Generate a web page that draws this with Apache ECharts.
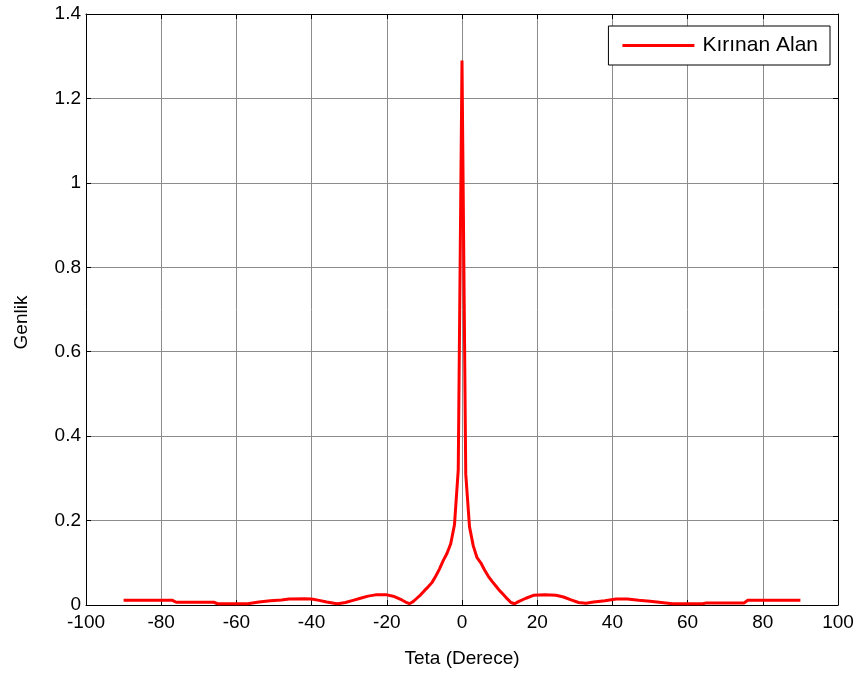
<!DOCTYPE html>
<html>
<head>
<meta charset="utf-8">
<script src="https://cdn.jsdelivr.net/npm/echarts@6/dist/echarts.min.js"></script>
<style>
  html, body { margin: 0; padding: 0; background: #fff; }
  #chart { width: 863px; height: 673px; }
</style>
</head>
<body>
<div id="chart"></div>
<script>
// Diffracted field amplitude versus observation angle (degrees)
const thetaDeg = [
  -90, -84, -77, -76, -70, -66, -65, -60, -57, -54, -51, -48, -46, -42, -40,
  -38, -36, -34, -33, -31, -29, -27, -25, -23, -20, -18, -16, -15, -14, -13,
  -12, -11, -10, -9, -8, -7, -6, -5, -4, -3, -2, -1, 0,
  1, 2, 3, 4, 5, 6, 7, 8, 9, 10, 11, 12, 13, 14, 15, 17, 19, 22, 25, 27,
  29, 31, 33, 35, 38, 41, 44, 47, 50, 53, 56, 60, 64, 65, 70, 75, 76, 82, 90
];
const amplitude = [
  0.011, 0.011, 0.011, 0.0065, 0.0065, 0.0065, 0.003, 0.003, 0.003, 0.007, 0.010, 0.012, 0.014, 0.015, 0.014,
  0.011, 0.007, 0.004, 0.003, 0.006, 0.011, 0.016, 0.021, 0.024, 0.024, 0.020, 0.012, 0.007, 0.003, 0.008,
  0.016, 0.024, 0.034, 0.043, 0.053, 0.068, 0.085, 0.105, 0.122, 0.145, 0.19, 0.32, 1.29,
  0.31, 0.185, 0.14, 0.112, 0.100, 0.083, 0.068, 0.056, 0.045, 0.034, 0.025, 0.015, 0.006, 0.003, 0.008, 0.016, 0.023, 0.024, 0.023, 0.019,
  0.012, 0.006, 0.004, 0.007, 0.010, 0.014, 0.014, 0.011, 0.009, 0.006, 0.003, 0.003, 0.003, 0.005, 0.005, 0.005, 0.011, 0.011, 0.011
];
const xTicks = { min: -100, max: 100, step: 20 };
const yTicks = { min: 0, max: 1.4, step: 0.2 };
const seriesName = 'Kırınan Alan';
const xTitle = 'Teta (Derece)';
const yTitle = 'Genlik';

const font = 'Liberation Sans, Arial, sans-serif';
const points = thetaDeg.map((t, i) => [t, amplitude[i]]);

const boxLine = { show: true, onZero: false, lineStyle: { color: '#000', width: 1 } };
const inTick = { show: true, inside: true, length: 5, lineStyle: { color: '#000', width: 1 } };

const chart = echarts.init(document.getElementById('chart'), null, { renderer: 'canvas' });
chart.setOption({
  backgroundColor: '#fff',
  animation: false,
  grid: { left: 86, top: 14, width: 752, height: 591 },
  legend: {
    data: [seriesName],
    right: 33, top: 26,
    backgroundColor: '#fff',
    borderColor: '#000', borderWidth: 1,
    padding: [9, 12, 9, 14],
    icon: 'rect',
    itemWidth: 72, itemHeight: 3,
    textStyle: { fontFamily: font, fontSize: 21, color: '#000', padding: [0, 0, 0, 3] }
  },
  xAxis: [
    {
      type: 'value', min: xTicks.min, max: xTicks.max, interval: xTicks.step,
      name: xTitle, nameLocation: 'middle', nameGap: 44,
      nameTextStyle: { fontFamily: font, fontSize: 19, color: '#000' },
      axisLine: boxLine, axisTick: inTick,
      axisLabel: { fontFamily: font, fontSize: 19, color: '#000', margin: 8 },
      splitLine: { show: true, lineStyle: { color: '#8c8c8c', width: 1 } }
    },
    {
      type: 'value', position: 'top', min: xTicks.min, max: xTicks.max, interval: xTicks.step,
      axisLine: boxLine, axisTick: inTick, axisLabel: { show: false }, splitLine: { show: false }
    }
  ],
  yAxis: [
    {
      type: 'value', min: yTicks.min, max: yTicks.max, interval: yTicks.step,
      name: yTitle, nameLocation: 'middle', nameGap: 55,
      nameTextStyle: { fontFamily: font, fontSize: 19, color: '#000', padding: [0, 26, 0, 0] },
      axisLine: boxLine, axisTick: inTick,
      axisLabel: { fontFamily: font, fontSize: 19, color: '#000', margin: 5 },
      splitLine: { show: true, lineStyle: { color: '#8c8c8c', width: 1 } }
    },
    {
      type: 'value', position: 'right', min: yTicks.min, max: yTicks.max, interval: yTicks.step,
      axisLine: boxLine, axisTick: inTick, axisLabel: { show: false }, splitLine: { show: false }
    }
  ],
  series: [
    {
      name: seriesName, type: 'line', data: points,
      xAxisIndex: 0, yAxisIndex: 0,
      symbol: 'none', smooth: false,
      lineStyle: { color: '#ff0000', width: 3 },
      itemStyle: { color: '#ff0000' },
      z: 3
    }
  ]
});
</script>
</body>
</html>
